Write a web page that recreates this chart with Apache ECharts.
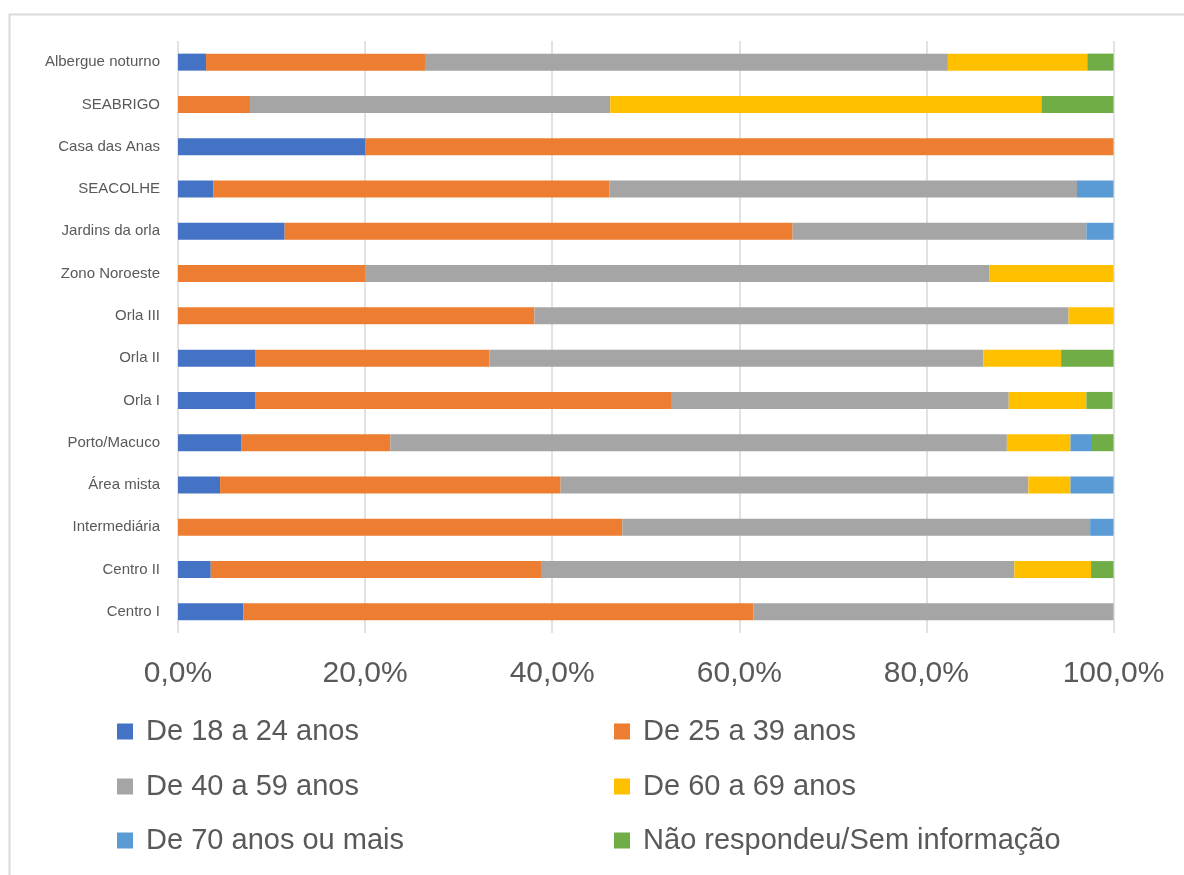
<!DOCTYPE html>
<html>
<head>
<meta charset="utf-8">
<script src="https://cdn.jsdelivr.net/npm/echarts@6/dist/echarts.min.js"></script>
<style>
html,body{margin:0;padding:0;background:#fff;}
#chart{width:1184px;height:875px;}
</style>
</head>
<body>
<div id="chart"></div>
<script>
const categories = ['Albergue noturno','SEABRIGO','Casa das Anas','SEACOLHE','Jardins da orla','Zono Noroeste','Orla III','Orla II','Orla I','Porto/Macuco','Área mista','Intermediária','Centro II','Centro I'];
const seriesNames = ['De 18 a 24 anos','De 25 a 39 anos','De 40 a 59 anos','De 60 a 69 anos','De 70 anos ou mais','Não respondeu/Sem informação'];
const age18_24 = [3.0, 0, 20.0, 3.8, 11.4, 0, 0, 8.3, 8.3, 6.8, 4.5, 0, 3.5, 7.0];
const age25_39 = [23.4, 7.7, 80.0, 42.3, 54.3, 20.0, 38.1, 25.0, 44.4, 15.9, 36.4, 47.5, 35.3, 54.5];
const age40_59 = [55.9, 38.5, 0, 50.0, 31.4, 66.7, 57.1, 52.8, 36.1, 65.9, 50.0, 50.0, 50.6, 38.5];
const age60_69 = [14.9, 46.1, 0, 0, 0, 13.3, 4.8, 8.3, 8.3, 6.8, 4.5, 0, 8.2, 0];
const age70plus = [0, 0, 0, 3.9, 2.9, 0, 0, 0, 0, 2.3, 4.6, 2.5, 0, 0];
const noAnswer = [2.8, 7.7, 0, 0, 0, 0, 0, 5.6, 2.8, 2.3, 0, 0, 2.4, 0];
const xTickLabels = ['0,0%','20,0%','40,0%','60,0%','80,0%','100,0%'];

const colors = ['#4472C4','#ED7D31','#A5A5A5','#FFC000','#5B9BD5','#70AD47'];
const seriesData = [age18_24, age25_39, age40_59, age60_69, age70plus, noAnswer];
const FONT = '"Liberation Sans", Arial, sans-serif';
const TXT = '#595959';

const chart = echarts.init(document.getElementById('chart'), null, {renderer:'canvas'});

const legendPos = [
  {left:117, top:717}, {left:614, top:717},
  {left:117, top:772}, {left:614, top:772},
  {left:117, top:826}, {left:614, top:826}
];

const option = {
  animation:false,
  backgroundColor:'#ffffff',
  color: colors,
  graphic:[{
    type:'rect', left:7, top:12, silent:true,
    shape:{width:1300, height:1000},
    style:{fill:'none', stroke:'#d9d9d9', lineWidth:2}
  }],
  legend: seriesNames.map((n,i)=>({
    data:[n], left:legendPos[i].left, top:legendPos[i].top, padding:0,
    icon:'rect', itemWidth:16, itemHeight:16,
    formatter: name => ' ' + name,
    textStyle:{fontSize:29, color:TXT, fontFamily:FONT},
    selectedMode:false
  })),
  grid:{left:178, right:70.5, top:41, height:592, containLabel:false},
  xAxis:{
    type:'value', min:0, max:100, interval:20,
    axisLine:{show:false}, axisTick:{show:false},
    splitLine:{show:true, lineStyle:{color:'#d9d9d9', width:1.5}},
    axisLabel:{
      margin:26, fontSize:30, color:TXT, fontFamily:FONT,
      formatter: v => xTickLabels[Math.round(v/20)]
    }
  },
  yAxis:{
    type:'category', data:categories, inverse:true,
    axisLine:{show:false}, axisTick:{show:false},
    axisLabel:{margin:18, fontSize:15, color:TXT, fontFamily:FONT}
  },
  series: seriesNames.map((n,i)=>({
    name:n, type:'bar', stack:'total', barWidth:17,
    data: seriesData[i],
    itemStyle:{color:colors[i]}
  }))
};
chart.setOption(option);
</script>
</body>
</html>
